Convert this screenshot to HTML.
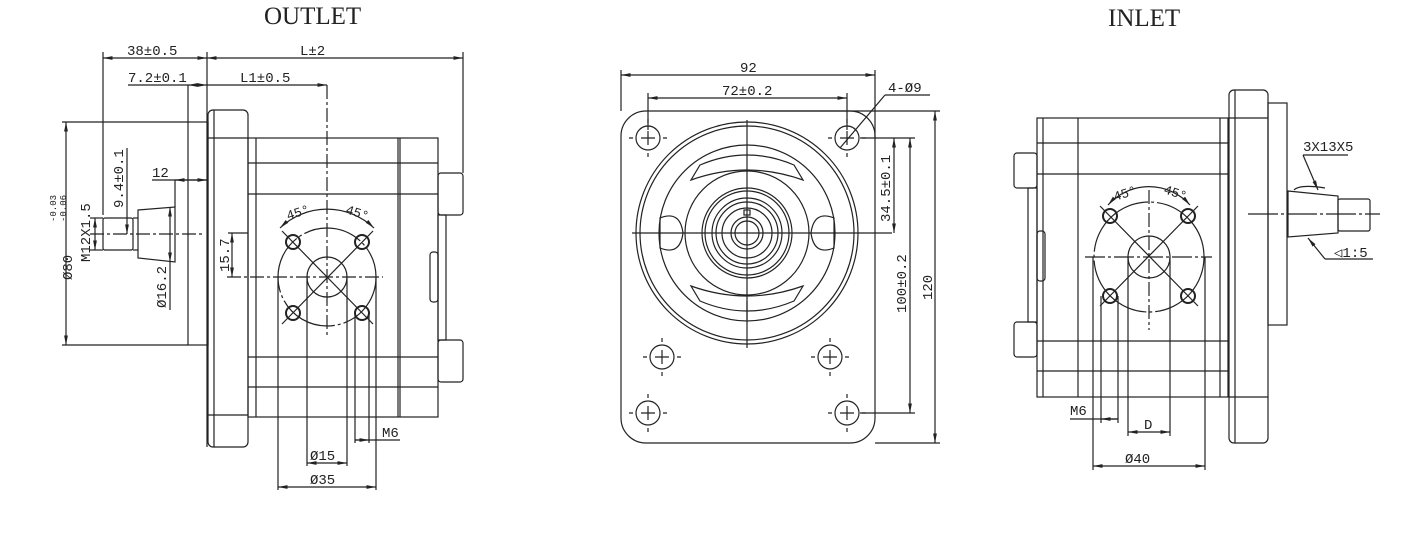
<!DOCTYPE html>
<html><head><meta charset="utf-8"><style>
html,body{margin:0;padding:0;background:#fff;}
svg{display:block;}
text{font-family:"Liberation Mono","DejaVu Sans Mono",monospace;font-size:14px;fill:#222;}
.t{font-family:"Liberation Serif",serif;font-size:25px;}
</style></head><body>
<svg width="1408" height="534" viewBox="0 0 1408 534" xmlns="http://www.w3.org/2000/svg">
<defs>
<marker id="a" viewBox="0 0 10 10" refX="10" refY="5" markerWidth="8" markerHeight="8" orient="auto-start-reverse"><path d="M0,3 L10,5 L0,7z" fill="#222"/></marker>
</defs>
<g fill="none" stroke="#222" stroke-width="1.2">
<!-- LEFT VIEW -->
<rect x="188" y="122" width="20" height="223"/>
<rect x="208" y="110" width="40" height="337" rx="5"/>
<line x1="214" y1="110" x2="214" y2="447"/>
<line x1="208" y1="138" x2="248" y2="138"/><line x1="208" y1="415" x2="248" y2="415"/>
<rect x="248" y="138" width="190" height="279"/>
<line x1="256" y1="138" x2="256" y2="417"/>
<line x1="248" y1="163" x2="438" y2="163"/><line x1="248" y1="194" x2="438" y2="194"/>
<line x1="248" y1="357" x2="438" y2="357"/><line x1="248" y1="387" x2="438" y2="387"/>
<line x1="398" y1="138" x2="398" y2="417"/><line x1="400" y1="138" x2="400" y2="417"/>
<rect x="438" y="173" width="25" height="42" rx="3"/><rect x="438" y="340" width="25" height="42" rx="3"/>
<rect x="438" y="215" width="8" height="125"/>
<rect x="430" y="252" width="8" height="50" rx="3"/>
<path d="M138,210 L175,207 L175,262 L138,258 Z"/>
<rect x="103" y="218" width="30" height="32" rx="2"/><line x1="133" y1="218" x2="138" y2="218"/><line x1="133" y1="250" x2="138" y2="250"/>
<line x1="90" y1="234" x2="205" y2="234" stroke-dasharray="14,3,3,3"/>
<circle cx="327" cy="277" r="49" stroke-dasharray="60,3,3,3"/>
<circle cx="327" cy="277" r="20"/>
<line x1="227" y1="277" x2="383" y2="277" stroke-dasharray="14,3,3,3"/>
<line x1="327" y1="85" x2="327" y2="335" stroke-dasharray="14,3,3,3"/>
<g stroke-width="2"><circle cx="293" cy="242" r="7"/><circle cx="362" cy="242" r="7"/><circle cx="293" cy="313" r="7"/><circle cx="362" cy="313" r="7"/></g>
<line x1="282" y1="231" x2="373" y2="324"/><line x1="373" y1="231" x2="282" y2="324"/>
<path d="M280,228 A68,68 0 0 1 374,228" marker-start="url(#a)" marker-end="url(#a)"/>
<!-- left dims -->
<line x1="103" y1="52" x2="103" y2="215"/><line x1="207" y1="52" x2="207" y2="447"/><line x1="463" y1="52" x2="463" y2="173"/>
<line x1="103" y1="58" x2="207" y2="58" marker-start="url(#a)" marker-end="url(#a)"/>
<line x1="207" y1="58" x2="463" y2="58" marker-start="url(#a)" marker-end="url(#a)"/>
<line x1="128" y1="85" x2="188" y2="85"/><line x1="188" y1="85" x2="207" y2="85" marker-start="url(#a)" marker-end="url(#a)"/>
<line x1="207" y1="85" x2="327" y2="85" marker-end="url(#a)"/>
<line x1="188" y1="85" x2="188" y2="122"/>
<line x1="66" y1="122" x2="66" y2="345" marker-start="url(#a)" marker-end="url(#a)"/>
<line x1="62" y1="122" x2="188" y2="122"/><line x1="62" y1="345" x2="188" y2="345"/>
<line x1="90" y1="218" x2="103" y2="218"/><line x1="90" y1="250" x2="103" y2="250"/>
<line x1="95" y1="218" x2="95" y2="250" marker-start="url(#a)" marker-end="url(#a)"/>
<line x1="127" y1="148" x2="127" y2="234" marker-end="url(#a)"/>
<line x1="170" y1="207" x2="170" y2="262" marker-start="url(#a)" marker-end="url(#a)"/><line x1="170" y1="262" x2="170" y2="310"/>
<line x1="152" y1="180" x2="207" y2="180"/><line x1="175" y1="180" x2="175" y2="207"/>
<line x1="175" y1="180" x2="207" y2="180" marker-start="url(#a)" marker-end="url(#a)"/>
<line x1="232" y1="233" x2="232" y2="277" marker-start="url(#a)" marker-end="url(#a)"/>
<line x1="228" y1="233" x2="248" y2="233"/>
<line x1="278" y1="277" x2="278" y2="490"/><line x1="376" y1="277" x2="376" y2="490"/>
<line x1="278" y1="487" x2="376" y2="487" marker-start="url(#a)" marker-end="url(#a)"/>
<line x1="307" y1="277" x2="307" y2="466"/><line x1="347" y1="277" x2="347" y2="466"/>
<line x1="307" y1="463" x2="347" y2="463" marker-start="url(#a)" marker-end="url(#a)"/>
<line x1="355" y1="313" x2="355" y2="443"/><line x1="369" y1="313" x2="369" y2="443"/>
<line x1="355" y1="440" x2="400" y2="440"/><line x1="355" y1="440" x2="369" y2="440" marker-end="url(#a)"/>

<!-- MIDDLE VIEW -->
<rect x="621" y="111" width="254" height="332" rx="25"/>
<circle cx="747" cy="233" r="111"/><circle cx="747" cy="233" r="107"/>
<circle cx="747" cy="233" r="88"/><circle cx="747" cy="233" r="62"/>
<circle cx="747" cy="233" r="45"/><circle cx="747" cy="233" r="42"/><circle cx="747" cy="233" r="35"/>
<circle cx="747" cy="233" r="31"/><circle cx="747" cy="233" r="25"/><circle cx="747" cy="233" r="16"/><circle cx="747" cy="233" r="12"/>
<rect x="744" y="210" width="6" height="5"/>
<path d="M700,165 Q747,145 794,165 L803,180 Q747,160 691,180 Z"/>
<path d="M700,301 Q747,321 794,301 L803,286 Q747,306 691,286 Z"/>
<line x1="747" y1="301" x2="747" y2="320"/>
<path d="M660,218 Q680,210 683,233 Q680,256 660,248 Z"/><path d="M834,218 Q814,210 811,233 Q814,256 834,248 Z"/>
<line x1="632" y1="233" x2="892" y2="233"/><line x1="747" y1="120" x2="747" y2="348"/>
<g>
<circle cx="648" cy="138" r="12"/><circle cx="847" cy="138" r="12"/>
<circle cx="662" cy="357" r="12"/><circle cx="830" cy="357" r="12"/>
<circle cx="648" cy="413" r="12"/><circle cx="847" cy="413" r="12"/>
<path d="M641,138h14M648,131v14M840,138h14M847,131v14M655,357h14M662,350v14M823,357h14M830,350v14M641,413h14M648,406v14M840,413h14M847,406v14"/>
<path d="M629,138h4M663,138h4M648,119v4M648,153v4M828,138h4M862,138h4M847,119v4M847,153v4M643,357h4M677,357h4M662,338v4M662,372v4M811,357h4M845,357h4M830,338v4M830,372v4M629,413h4M663,413h4M648,394v4M648,428v4M828,413h4M862,413h4M847,394v4M847,428v4"/>
</g>
<line x1="621" y1="70" x2="621" y2="111"/><line x1="875" y1="70" x2="875" y2="138"/>
<line x1="621" y1="75" x2="875" y2="75" marker-start="url(#a)" marker-end="url(#a)"/>
<line x1="648" y1="93" x2="648" y2="130"/><line x1="847" y1="93" x2="847" y2="130"/>
<line x1="648" y1="98" x2="847" y2="98" marker-start="url(#a)" marker-end="url(#a)"/>
<line x1="840" y1="148" x2="885" y2="95"/><line x1="885" y1="95" x2="930" y2="95"/>
<line x1="760" y1="111" x2="940" y2="111"/><line x1="860" y1="138" x2="915" y2="138"/>
<line x1="860" y1="413" x2="915" y2="413"/><line x1="875" y1="443" x2="940" y2="443"/>
<line x1="935" y1="111" x2="935" y2="443" marker-start="url(#a)" marker-end="url(#a)"/>
<line x1="910" y1="138" x2="910" y2="413" marker-start="url(#a)" marker-end="url(#a)"/>
<line x1="894" y1="138" x2="894" y2="233" marker-start="url(#a)" marker-end="url(#a)"/>

<!-- RIGHT VIEW -->
<rect x="1037" y="118" width="191" height="279"/>
<line x1="1043" y1="118" x2="1043" y2="397"/>
<line x1="1078" y1="118" x2="1078" y2="397"/>
<line x1="1037" y1="143" x2="1228" y2="143"/><line x1="1037" y1="174" x2="1228" y2="174"/>
<line x1="1037" y1="341" x2="1228" y2="341"/><line x1="1037" y1="371" x2="1228" y2="371"/>
<line x1="1220" y1="118" x2="1220" y2="397"/>
<rect x="1229" y="90" width="39" height="353" rx="5"/><line x1="1235" y1="90" x2="1235" y2="443"/>
<line x1="1229" y1="118" x2="1268" y2="118"/><line x1="1229" y1="397" x2="1268" y2="397"/>
<rect x="1268" y="103" width="19" height="222"/>
<rect x="1014" y="153" width="23" height="35" rx="3"/><rect x="1014" y="322" width="23" height="35" rx="3"/>
<rect x="1028" y="188" width="9" height="134"/><rect x="1037" y="231" width="8" height="50" rx="3"/>
<path d="M1288,191 L1338,196 L1338,233 L1288,237 Z"/>
<rect x="1338" y="199" width="32" height="32" rx="2"/>
<path d="M1294,190 Q1300,184 1325,188"/>
<line x1="1248" y1="214" x2="1380" y2="214" stroke-dasharray="30,3,3,3"/>
<circle cx="1149" cy="257" r="55" stroke-dasharray="80,3,3,3"/>
<circle cx="1149" cy="257" r="21"/>
<line x1="1085" y1="257" x2="1212" y2="257" stroke-dasharray="20,3,3,3"/>
<line x1="1149" y1="190" x2="1149" y2="330" stroke-dasharray="14,3,3,3"/>
<g stroke-width="2"><circle cx="1110" cy="216" r="7"/><circle cx="1188" cy="216" r="7"/><circle cx="1110" cy="296" r="7"/><circle cx="1188" cy="296" r="7"/></g>
<line x1="1100" y1="206" x2="1198" y2="306"/><line x1="1198" y1="206" x2="1100" y2="306"/>
<path d="M1108,205 A55,55 0 0 1 1190,205" marker-start="url(#a)" marker-end="url(#a)"/>
<line x1="1093" y1="257" x2="1093" y2="470"/><line x1="1205" y1="257" x2="1205" y2="470"/>
<line x1="1093" y1="466" x2="1205" y2="466" marker-start="url(#a)" marker-end="url(#a)"/>
<line x1="1128" y1="257" x2="1128" y2="436"/><line x1="1170" y1="257" x2="1170" y2="436"/>
<line x1="1128" y1="432" x2="1170" y2="432" marker-start="url(#a)" marker-end="url(#a)"/>
<line x1="1101" y1="296" x2="1101" y2="423"/><line x1="1118" y1="296" x2="1118" y2="423"/>
<line x1="1070" y1="419" x2="1118" y2="419"/><line x1="1101" y1="419" x2="1118" y2="419" marker-start="url(#a)"/>
<line x1="1303" y1="155" x2="1348" y2="155"/><line x1="1303" y1="155" x2="1318" y2="190" marker-end="url(#a)"/>
<line x1="1325" y1="259" x2="1373" y2="259"/><line x1="1325" y1="259" x2="1308" y2="238" marker-end="url(#a)"/>
</g>
<text class="t" x="264" y="24">OUTLET</text>
<text class="t" x="1108" y="26">INLET</text>
<text x="127" y="55">38±0.5</text>
<text x="300" y="55">L±2</text>
<text x="128" y="82">7.2±0.1</text>
<text x="240" y="82">L1±0.5</text>
<text x="152" y="177">12</text>
<text transform="translate(123,208) rotate(-90)">9.4±0.1</text>
<text transform="translate(90,262) rotate(-90)">M12X1.5</text>
<text transform="translate(72,280) rotate(-90)">Ø80</text>
<text style="font-size:9px" transform="translate(56,222) rotate(-90)">-0.03</text>
<text style="font-size:9px" transform="translate(66,222) rotate(-90)">-0.06</text>
<text transform="translate(166,308) rotate(-90)">Ø16.2</text>
<text transform="translate(229,272) rotate(-90)">15.7</text>
<text style="font-size:13px" transform="translate(288,220) rotate(-18)">45°</text>
<text style="font-size:13px" transform="translate(345,213) rotate(18)">45°</text>
<text x="382" y="437">M6</text>
<text x="310" y="460">Ø15</text>
<text x="310" y="484">Ø35</text>
<text x="740" y="72">92</text>
<text x="722" y="95">72±0.2</text>
<text x="888" y="92">4-Ø9</text>
<text transform="translate(890,222) rotate(-90)">34.5±0.1</text>
<text transform="translate(906,313) rotate(-90)">100±0.2</text>
<text transform="translate(932,300) rotate(-90)">120</text>
<text style="font-size:13px" transform="translate(1115,201) rotate(-18)">45°</text>
<text style="font-size:13px" transform="translate(1163,193) rotate(18)">45°</text>
<text x="1303" y="151">3X13X5</text>
<text x="1334" y="257">◁1:5</text>
<text x="1070" y="415">M6</text>
<text x="1144" y="429">D</text>
<text x="1125" y="463">Ø40</text>
</svg>
</body></html>
